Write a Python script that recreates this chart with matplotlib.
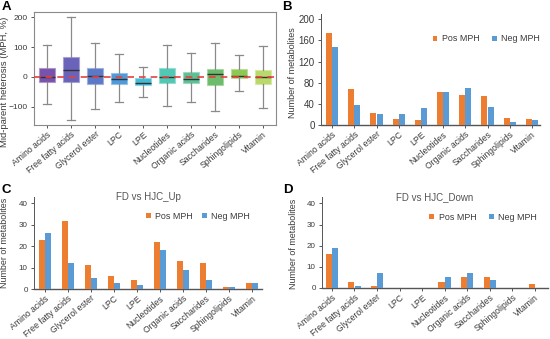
import numpy as np
import matplotlib
matplotlib.use("Agg")
import matplotlib.pyplot as plt

plt.rcParams["font.family"] = ["Liberation Sans", "DejaVu Sans"]

categories = ["Amino acids", "Free fatty acids", "Glycerol ester", "LPC", "LPE",
              "Nucleotides", "Organic acids", "Saccharides", "Sphingolipids", "Vitamin"]

# panel A box statistics (MPH, %)
whislo = [-92, -145, -107, -85, -66, -98, -84, -113, -47, -103]
q1 = [-17, -16, -23, -25, -28, -20, -21, -28, -2, -24]
med = [1, 25, 3, -8, -21, -1, -7, 9, 3, 0]
q3 = [31, 68, 30, 15, -4, 29, 17, 27, 27, 25]
whishi = [106, 200, 113, 76, 35, 106, 79, 113, 74, 104]
box_colors = ["#6a3fa3", "#5a52b3", "#4a6bc2", "#3a90d6", "#2cb4d3",
              "#3ec2ac", "#4bb98a", "#5cb55c", "#82c241", "#b2d55a"]

# panel B: all metabolites
b_pos = [175, 68, 22, 11, 9, 62, 57, 54, 14, 11]
b_neg = [148, 37, 20, 21, 32, 62, 70, 34, 6, 10]
# panel C: FD vs HJC_Up
c_pos = [23, 32, 11, 6, 4, 22, 13, 12, 1, 3]
c_neg = [26, 12, 5, 3, 2, 18, 9, 4, 1, 3]
# panel D: FD vs HJC_Down
d_pos = [16, 3, 1, 0, 0, 3, 5, 5, 0, 2]
d_neg = [19, 1, 7, 0, 0, 5, 7, 4, 0, 0]

POS_C = "#ed7d31"
NEG_C = "#5b9bd5"
TXT = "#3a3a3a"
W, H = 550, 339
ROT = 40
XT_FS = 6.2

fig = plt.figure(figsize=(5.5, 3.39), dpi=100)


def box(l, t, r, b):
    return [l / W, 1 - b / H, (r - l) / W, (b - t) / H]


def lighten(c, f=0.35):
    rgb = np.array(matplotlib.colors.to_rgb(c))
    return tuple(rgb + (1 - rgb) * f)


x = np.arange(len(categories))

# ---- A ----
axA = fig.add_axes(box(34, 12, 276, 125))
stats = [dict(whislo=a, q1=b, med=c, q3=d, whishi=e)
         for a, b, c, d, e in zip(whislo, q1, med, q3, whishi)]
bp = axA.bxp(stats, positions=x, widths=0.68, showfliers=False, patch_artist=True,
             whiskerprops=dict(color="#8a8a8a", lw=0.9),
             capprops=dict(color="#8a8a8a", lw=0.9),
             medianprops=dict(color="#333333", lw=1.0))
for patch, c in zip(bp["boxes"], box_colors):
    patch.set_facecolor(c)
    patch.set_edgecolor(lighten(c, 0.45))
    patch.set_linewidth(0.8)
    patch.set_alpha(0.9)
axA.axhline(0, color="#e8403e", ls=(0, (4, 3)), lw=1.2, zorder=5)
axA.set_xlim(-0.55, 9.55)
axA.set_ylim(-161, 218)
axA.set_yticks([-100, 0, 100, 200])
axA.set_xticks(x)
axA.set_xticklabels(categories, rotation=ROT, ha="right", rotation_mode="anchor",
                    fontsize=XT_FS, color=TXT)
axA.tick_params(axis="y", labelsize=6, colors=TXT, length=2.5, width=0.6, pad=2)
axA.tick_params(axis="x", length=2, width=0.6, colors=TXT, pad=1.5)
for sp in axA.spines.values():
    sp.set_color("#8a8a8a")
    sp.set_linewidth(0.8)
axA.set_ylabel("Mid-parent heterosis (MPH, %)", fontsize=6.8, color=TXT)
axA.yaxis.set_label_coords(-0.103, 0.38)


def bar_panel(rect, pos, neg, ylim, yticks, xlim, ytick_fs, ylab_fs, lab_xy,
              leg_xy, colsp, title=None):
    ax = fig.add_axes(box(*rect))
    w = 0.27
    ax.bar(x - 0.14, pos, width=w, color=POS_C, label="Pos MPH", zorder=3)
    ax.bar(x + 0.14, neg, width=w, color=NEG_C, label="Neg MPH", zorder=3)
    ax.set_xlim(*xlim)
    ax.set_ylim(*ylim)
    ax.set_yticks(yticks)
    ax.set_xticks(x)
    ax.set_xticklabels(categories, rotation=ROT, ha="right", rotation_mode="anchor",
                       fontsize=XT_FS, color=TXT)
    ax.tick_params(axis="y", labelsize=ytick_fs, colors=TXT, length=2.5, width=0.6, pad=2)
    ax.tick_params(axis="x", length=2, width=0.6, colors=TXT, pad=1.5)
    for s in ["top", "right"]:
        ax.spines[s].set_visible(False)
    ax.spines["left"].set_color("#555555")
    ax.spines["left"].set_linewidth(0.7)
    ax.spines["bottom"].set_color("#555555")
    ax.spines["bottom"].set_linewidth(1.0)
    ax.set_ylabel("Number of metabolites", fontsize=ylab_fs, color=TXT)
    ax.yaxis.set_label_coords(*lab_xy)
    ax.legend(loc="center right", bbox_to_anchor=leg_xy, ncol=2, frameon=False,
              fontsize=6.4, handlelength=0.55, handleheight=0.55,
              handletextpad=0.5, columnspacing=colsp, labelcolor=TXT,
              borderpad=0, borderaxespad=0)
    if title:
        ax.text(0.5, 1.0, title, transform=ax.transAxes, ha="center", va="center",
                fontsize=7, color="#555555")
    return ax


axB = bar_panel((321, 14, 540, 125), b_pos, b_neg, (0, 210), [0, 40, 80, 120, 160, 200],
                (-0.5, 9.36), 7, 6.5, (-0.11, 0.47), (1.0, 0.775), 1.4)
axC = bar_panel((34, 197, 262, 289), c_pos, c_neg, (0, 43), [0, 10, 20, 30, 40],
                (-0.48, 9.43), 5.8, 6.4, (-0.11, 0.5), (0.947, 0.79), 1.0,
                "FD vs HJC_Up")
axD = bar_panel((322, 197, 548, 288), d_pos, d_neg, (0, 43), [0, 10, 20, 30, 40],
                (-0.44, 9.58), 5.8, 6.4, (-0.106, 0.49), (0.95, 0.78), 1.4,
                "FD vs HJC_Down")

for lbl, px, py in [("A", 2, 1), ("B", 282, 1), ("C", 2, 184), ("D", 283, 184)]:
    fig.text(px / W, 1 - py / H, lbl, fontsize=9.5, fontweight="bold",
             va="top", ha="left", color="black")

fig.savefig("out.png", dpi=100)
